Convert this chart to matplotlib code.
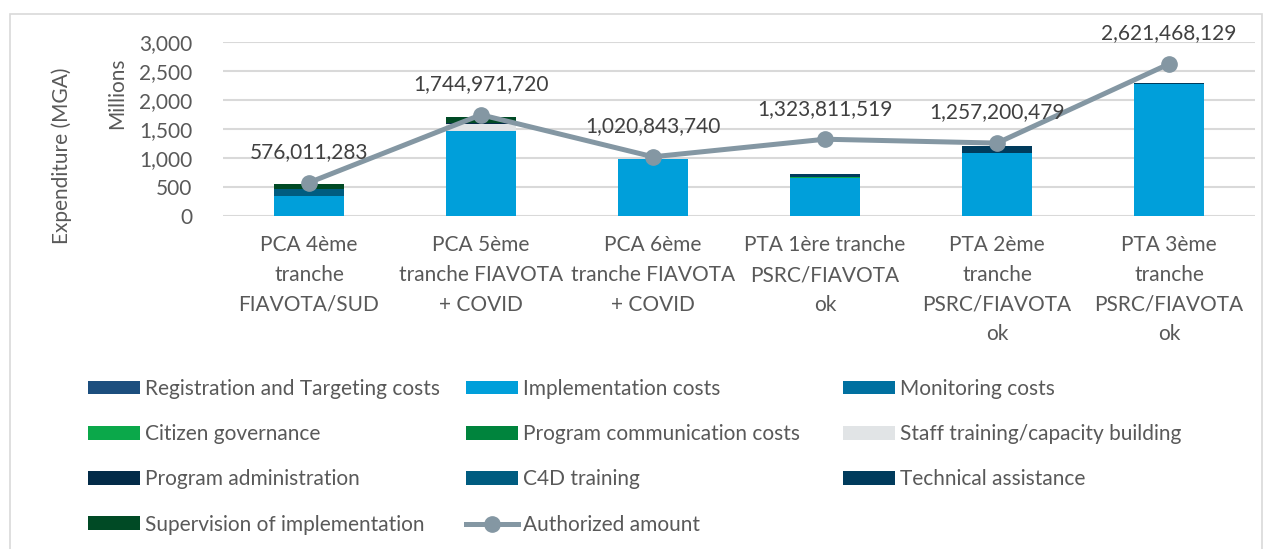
import matplotlib
matplotlib.use("Agg")
import matplotlib.pyplot as plt
from matplotlib.patches import Patch, Rectangle
from matplotlib.lines import Line2D
import numpy as np

plt.rcParams['font.family'] = ['Lato', 'DejaVu Sans']

categories = ["PCA 4ème\ntranche\nFIAVOTA/SUD", "PCA 5ème\ntranche FIAVOTA\n+ COVID",
              "PCA 6ème\ntranche FIAVOTA\n+ COVID", "PTA 1ère tranche\nPSRC/FIAVOTA\nok",
              "PTA 2ème\ntranche\nPSRC/FIAVOTA\nok", "PTA 3ème\ntranche\nPSRC/FIAVOTA\nok"]

# Expenditure components, millions MGA
registration = [0, 0, 0, 0, 0, 0]
implementation = [350, 1466, 978, 655, 1082, 2270]
monitoring = [0, 0, 0, 0, 0, 0]
citizen_gov = [0, 0, 0, 10, 0, 0]
program_comm = [0, 0, 0, 0, 0, 0]
staff_training = [0, 120, 0, 0, 0, 0]
program_admin = [0, 20, 0, 0, 0, 0]
c4d_training = [115, 0, 0, 12, 12, 0]
technical_assist = [0, 0, 0, 40, 115, 30]
supervision = [87, 100, 0, 0, 0, 0]

authorized = [576011283, 1744971720, 1020843740, 1323811519, 1257200479, 2621468129]

series = [
    ("Registration and Targeting costs", registration, "#1C4E7E"),
    ("Implementation costs", implementation, "#009FDA"),
    ("Monitoring costs", monitoring, "#0070A0"),
    ("Citizen governance", citizen_gov, "#0BA84A"),
    ("Program communication costs", program_comm, "#00843D"),
    ("Staff training/capacity building", staff_training, "#E1E4E6"),
    ("Program administration", program_admin, "#032B48"),
    ("C4D training", c4d_training, "#005C80"),
    ("Technical assistance", technical_assist, "#003B5C"),
    ("Supervision of implementation", supervision, "#004A25"),
]
line_color = "#8497A3"

W, H = 1269, 549
fig = plt.figure(figsize=(W / 100, H / 100), dpi=100)
fig.patches.append(Rectangle((10 / W, -0.01), (1262 - 10) / W, 1 - 14 / H + 0.01,
                             transform=fig.transFigure, fill=False,
                             edgecolor="#D9D9D9", linewidth=1.2))

ax = fig.add_axes([223 / W, 1 - 216 / H, (1255 - 223) / W, (216 - 42) / H])
x = np.arange(len(categories))
bottom = np.zeros(len(categories))
handles = {}
for name, vals, col in series:
    ax.bar(x, vals, 0.41, bottom=bottom, color=col, label=name, zorder=2)
    handles[name] = Patch(facecolor=col, label=name)
    bottom += np.array(vals, dtype=float)

auth_m = np.array(authorized) / 1e6
ax.plot(x, auth_m, color=line_color, lw=3.6, marker='o', markersize=11, zorder=3,
        solid_capstyle='round')
for xi, v, raw in zip(x, auth_m, authorized):
    ax.annotate(f"{raw:,}", (xi, v), xytext=(0, 22), textcoords='offset points',
                ha='center', va='center', fontsize=15, color="#404040",
                annotation_clip=False)
handles["Authorized amount"] = Line2D([], [], color=line_color, lw=3.6, marker='o',
                                      markersize=11, label="Authorized amount")

ax.set_xlim(-0.5, 5.5)
ax.set_ylim(0, 3000)
ax.set_yticks(np.arange(0, 3001, 500))
ax.yaxis.set_major_formatter(matplotlib.ticker.FuncFormatter(lambda v, p: f"{int(v):,}"))
ax.grid(axis='y', color="#D9D9D9", lw=1.5, zorder=0)
ax.set_axisbelow(True)
for s in ax.spines.values():
    s.set_visible(False)
ax.tick_params(axis='y', length=0, labelsize=15, labelcolor="#595959", pad=22)
ax.set_xticks(x)
ax.set_xticklabels(categories, fontsize=15, color="#595959", linespacing=1.6)
ax.tick_params(axis='x', length=0, pad=14)

fig.text(117 / W, 1 - 93 / H, "Millions", rotation=90, ha='center', va='center',
         fontsize=15, color="#595959")
fig.text(62 / W, 1 - 156 / H, "Expenditure (MGA)", rotation=90, ha='center', va='center',
         fontsize=15, color="#595959")

cols = [
    ["Registration and Targeting costs", "Citizen governance", "Program administration",
     "Supervision of implementation"],
    ["Implementation costs", "Program communication costs", "C4D training", "Authorized amount"],
    ["Monitoring costs", "Staff training/capacity building", "Technical assistance"],
]
col_x = [88, 466, 843]
for cx, names in zip(col_x, cols):
    fig.legend(handles=[handles[n] for n in names], loc='upper left',
               bbox_to_anchor=(cx / W, 1 - 379 / H), frameon=False,
               fontsize=15, labelcolor="#595959", handlelength=2.5,
               handleheight=0.63, handletextpad=0.25, labelspacing=1.21,
               borderaxespad=0, borderpad=0)

fig.savefig("out.png", dpi=100)
